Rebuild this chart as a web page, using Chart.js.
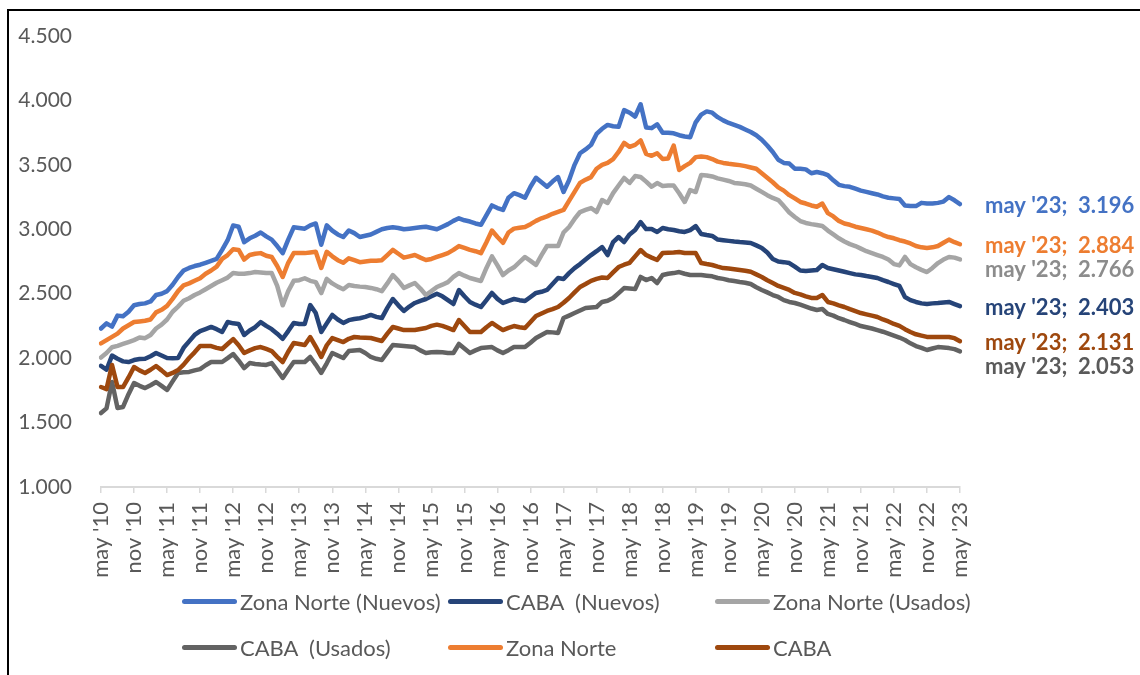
<!DOCTYPE html>
<html>
<head>
<meta charset="utf-8">
<script src="https://cdn.jsdelivr.net/npm/chart.js@4"></script>
<style>
html,body{margin:0;padding:0;background:#fff;}
#wrap{position:relative;width:1140px;height:675px;overflow:hidden;background:#fff;}
#frame{position:absolute;left:7px;top:9px;width:1300px;height:900px;border-left:2px solid #000;border-top:2px solid #000;pointer-events:none;}
#c{position:absolute;left:0;top:0;}
.leg{position:absolute;height:30px;display:flex;align-items:center;font-family:Lato,"Open Sans",sans-serif;font-size:22px;color:#595959;white-space:pre;}
.leg i{display:inline-block;width:55px;height:5px;border-radius:3px;margin-right:3px;}
</style>
</head>
<body>
<div id="wrap">
  <canvas id="c" width="1140" height="675"></canvas>
  <div id="frame"></div>
  <div id="legend"></div>
</div>
<script>
// ---- categories ----
const monthNames = ['may','jun','jul','ago','sep','oct','nov','dic','ene','feb','mar','abr'];
const categories = [];
for (let y = 10; y <= 23; y++) {
  for (let m = 0; m < 12; m++) {
    const yr = m >= 8 ? y + 1 : y;
    if (categories.length < 157) categories.push(monthNames[m] + " '" + String(yr).padStart(2, '0'));
  }
}
const yTicks = [1000, 1500, 2000, 2500, 3000, 3500, 4000, 4500];

// ---- series values (one value per month, may '10 .. may '23) ----
const zonaNorteNuevos = [
  2230,2270,2245,2330,2325,2360,2410,2420,2425,2440,2490,2500,
  2520,2570,2630,2680,2700,2715,2725,2740,2755,2770,2840,2915,
  3030,3020,2900,2930,2950,2975,2945,2920,2870,2815,2920,3015,
  3010,3005,3030,3045,2880,3030,2990,2960,2940,2990,2970,2940,
  2950,2960,2980,3000,3010,3015,3010,3000,3005,3010,3015,3020,
  3010,3000,3020,3040,3065,3085,3070,3060,3045,3035,3110,3185,
  3165,3150,3245,3280,3265,3245,3330,3400,3365,3330,3370,3405,
  3290,3380,3500,3590,3620,3655,3740,3780,3810,3800,3795,3925,
  3905,3875,3970,3790,3785,3815,3750,3750,3745,3730,3720,3715,
  3830,3890,3915,3905,3870,3845,3825,3810,3795,3775,3755,3730,
  3695,3650,3600,3540,3515,3510,3470,3470,3465,3435,3445,3435,
  3420,3380,3345,3335,3330,3315,3300,3290,3280,3270,3255,3245,
  3240,3235,3185,3180,3180,3205,3200,3200,3205,3215,3250,3225,
  3196];
const cabaNuevos = [
  1940,1910,2020,1995,1975,1970,1985,1993,1995,2015,2040,2020,
  2001,2000,2001,2080,2130,2180,2210,2226,2242,2225,2203,2280,
  2270,2265,2180,2215,2240,2280,2250,2225,2190,2150,2210,2273,
  2265,2265,2412,2350,2203,2270,2335,2300,2273,2295,2304,2310,
  2320,2335,2320,2311,2390,2459,2410,2366,2400,2428,2445,2459,
  2480,2500,2480,2450,2420,2529,2480,2436,2415,2397,2450,2506,
  2460,2428,2445,2459,2450,2443,2475,2506,2515,2529,2575,2622,
  2614,2660,2699,2730,2765,2800,2830,2862,2800,2900,2940,2901,
  2960,2994,3056,3002,3002,2979,3010,3000,2994,2985,2979,2994,
  3025,2963,2955,2948,2920,2915,2910,2905,2901,2898,2894,2875,
  2855,2820,2770,2750,2745,2738,2710,2680,2676,2680,2684,2723,
  2700,2690,2680,2670,2660,2650,2645,2637,2630,2622,2605,2591,
  2575,2560,2474,2450,2436,2425,2420,2425,2428,2432,2436,2420,
  2403];
const zonaNorteUsados = [
  2005,2040,2085,2095,2110,2125,2140,2160,2155,2180,2230,2260,
  2300,2360,2400,2445,2465,2490,2510,2535,2560,2585,2605,2625,
  2660,2655,2655,2660,2668,2665,2660,2660,2560,2410,2520,2600,
  2605,2620,2600,2590,2505,2615,2580,2555,2535,2568,2560,2555,
  2552,2545,2535,2520,2580,2645,2600,2545,2565,2583,2540,2490,
  2520,2552,2570,2590,2630,2660,2640,2622,2610,2599,2700,2790,
  2720,2645,2680,2705,2745,2785,2755,2723,2800,2870,2870,2870,
  2975,3018,3080,3134,3150,3165,3134,3227,3204,3281,3340,3398,
  3360,3413,3406,3370,3330,3359,3336,3340,3340,3280,3212,3305,
  3289,3421,3418,3410,3395,3385,3375,3360,3355,3350,3340,3315,
  3290,3265,3243,3227,3180,3130,3095,3064,3049,3040,3033,3025,
  2990,2960,2930,2905,2885,2870,2850,2830,2815,2800,2785,2765,
  2730,2720,2785,2730,2705,2685,2668,2700,2738,2765,2785,2780,
  2766];
const cabaUsados = [
  1574,1610,1815,1613,1621,1720,1807,1785,1768,1790,1815,1785,
  1753,1820,1885,1890,1893,1905,1915,1945,1970,1970,1970,2000,
  2032,1980,1923,1962,1955,1950,1947,1962,1905,1846,1910,1970,
  1970,1970,2009,1950,1885,1960,2040,2020,2001,2055,2060,2063,
  2040,2009,1995,1986,2045,2102,2098,2094,2090,2086,2060,2040,
  2045,2048,2045,2040,2040,2110,2075,2040,2060,2078,2082,2086,
  2060,2040,2062,2086,2086,2086,2120,2156,2180,2203,2200,2195,
  2311,2330,2350,2370,2389,2393,2397,2436,2445,2467,2505,2544,
  2540,2536,2630,2606,2622,2583,2645,2655,2660,2668,2655,2645,
  2645,2645,2640,2635,2622,2615,2605,2598,2591,2585,2575,2550,
  2529,2510,2490,2475,2450,2436,2428,2415,2400,2385,2374,2381,
  2343,2330,2310,2296,2280,2265,2249,2240,2230,2218,2205,2190,
  2175,2160,2141,2115,2094,2080,2063,2075,2086,2082,2078,2070,
  2053];
const zonaNorte = [
  2115,2140,2165,2190,2230,2255,2280,2285,2290,2300,2355,2375,
  2405,2460,2520,2565,2580,2600,2620,2655,2680,2710,2770,2800,
  2845,2840,2765,2800,2810,2815,2795,2785,2715,2630,2740,2815,
  2815,2815,2820,2825,2700,2825,2790,2760,2740,2775,2760,2745,
  2750,2755,2755,2760,2800,2840,2810,2780,2790,2800,2780,2762,
  2770,2785,2800,2815,2840,2870,2855,2840,2830,2815,2900,2990,
  2940,2895,2975,3005,3012,3018,3040,3065,3085,3100,3120,3135,
  3150,3220,3290,3360,3385,3405,3470,3500,3515,3545,3600,3670,
  3640,3655,3690,3585,3570,3590,3545,3550,3650,3460,3490,3515,
  3560,3565,3560,3545,3525,3515,3508,3503,3498,3490,3480,3470,
  3435,3400,3365,3325,3300,3265,3240,3212,3200,3185,3175,3200,
  3125,3100,3065,3045,3035,3020,3010,3000,2990,2975,2955,2940,
  2930,2915,2905,2890,2870,2860,2855,2860,2870,2895,2920,2900,
  2884];
const caba = [
  1776,1760,1947,1776,1776,1850,1931,1905,1885,1910,1939,1905,
  1869,1885,1908,1950,2001,2045,2094,2094,2094,2080,2071,2110,
  2148,2100,2040,2060,2078,2086,2071,2055,2010,1970,2050,2117,
  2110,2102,2164,2090,2009,2100,2156,2140,2125,2150,2164,2160,
  2158,2156,2145,2133,2190,2242,2230,2218,2218,2218,2226,2234,
  2250,2260,2250,2235,2218,2296,2250,2203,2203,2203,2240,2273,
  2245,2218,2235,2249,2240,2234,2280,2327,2347,2366,2380,2397,
  2430,2467,2510,2552,2575,2600,2615,2626,2622,2665,2707,2725,
  2740,2790,2839,2800,2780,2762,2816,2818,2820,2824,2816,2816,
  2816,2738,2730,2723,2710,2699,2695,2690,2684,2678,2670,2650,
  2630,2605,2583,2560,2545,2529,2506,2495,2480,2467,2467,2490,
  2436,2425,2410,2397,2380,2365,2350,2340,2330,2319,2300,2285,
  2265,2250,2225,2203,2185,2175,2165,2164,2164,2164,2164,2155,
  2131];

const seriesNames = ['Zona Norte (Nuevos)', 'CABA  (Nuevos)', 'Zona Norte (Usados)', 'CABA  (Usados)', 'Zona Norte', 'CABA'];
const seriesData = [zonaNorteNuevos, cabaNuevos, zonaNorteUsados, cabaUsados, zonaNorte, caba];
const seriesColors = ['#4472C4', '#264478', '#A5A5A5', '#636363', '#ED7D31', '#9E480E'];
const labelColors = ['#4472C4', '#264478', '#8C8C8C', '#5A5A5A', '#ED7D31', '#9E480E'];

function fmt(v) {
  const s = String(Math.round(v));
  return s.replace(/\B(?=(\d{3})+(?!\d))/g, '.');
}

const endLabels = {
  id: 'endLabels',
  afterDatasetsDraw(chart) {
    const ctx = chart.ctx;
    const last = categories[categories.length - 1];
    const items = chart.data.datasets.map((ds, i) => {
      const meta = chart.getDatasetMeta(i);
      const pt = meta.data[meta.data.length - 1];
      return { x: pt.x, y: pt.y + 2, v: ds.data[ds.data.length - 1], color: labelColors[i] };
    }).sort((a, b) => a.y - b.y);
    for (let k = 1; k < items.length; k++) {
      if (items[k].y - items[k - 1].y < 24) items[k].y = items[k - 1].y + 24;
    }
    ctx.save();
    ctx.font = 'bold 22px Lato, "Open Sans", sans-serif';
    ctx.textBaseline = 'middle';
    ctx.textAlign = 'left';
    items.forEach(it => {
      ctx.fillStyle = it.color;
      ctx.fillText(last + ';  ' + fmt(it.v), it.x + 25, it.y);
    });
    ctx.restore();
  }
};

const datasets = seriesNames.map((n, i) => ({
  label: n,
  data: seriesData[i],
  borderColor: seriesColors[i],
  backgroundColor: seriesColors[i],
  borderWidth: 4.5,
  pointRadius: 0,
  tension: 0,
  fill: false,
  borderCapStyle: 'round',
  borderJoinStyle: 'round',
  order: 6 - i
}));

new Chart(document.getElementById('c'), {
  type: 'line',
  data: { labels: categories, datasets },
  options: {
    responsive: false,
    animation: false,
    devicePixelRatio: 1,
    layout: { padding: { top: 36, right: 180, left: 0, bottom: 0 } },
    plugins: { legend: { display: false }, tooltip: { enabled: false } },
    scales: {
      x: {
        type: 'category',
        offset: false,
        grid: { display: true, drawOnChartArea: false, drawTicks: true, tickLength: 6, color: '#D9D9D9', lineWidth: 1.5 },
        border: { display: true, color: '#D9D9D9', width: 2 },
        ticks: {
          autoSkip: false, minRotation: 90, maxRotation: 90, padding: 9,
          color: '#595959', font: { family: 'Lato', size: 22 },
          callback(v, i) { return i % 6 === 0 ? this.getLabelForValue(v) : null; }
        },
        afterFit(s) { s.height = 188; }
      },
      y: {
        min: yTicks[0], max: yTicks[yTicks.length - 1],
        afterBuildTicks(s) { s.ticks = yTicks.map(v => ({ value: v })); },
        grid: { display: true, drawOnChartArea: false, drawTicks: true, tickLength: 29, color: 'rgba(0,0,0,0)' },
        border: { display: false },
        ticks: { padding: 0, color: '#595959', font: { family: 'Lato', size: 21 }, callback: v => fmt(v) },
        afterFit(s) { s.width = 101; }
      }
    }
  },
  plugins: [endLabels]
});

// ---- legend (HTML) ----
const legendPos = [[182, 601], [448, 601], [715, 601], [182, 647], [448, 647], [715, 647]];
const legend = document.getElementById('legend');
seriesNames.forEach((n, i) => {
  const d = document.createElement('div');
  d.className = 'leg';
  d.style.left = legendPos[i][0] + 'px';
  d.style.top = (legendPos[i][1] - 15) + 'px';
  const sw = document.createElement('i');
  sw.style.background = seriesColors[i];
  d.appendChild(sw);
  d.appendChild(document.createTextNode(n));
  legend.appendChild(d);
});
</script>
</body>
</html>
